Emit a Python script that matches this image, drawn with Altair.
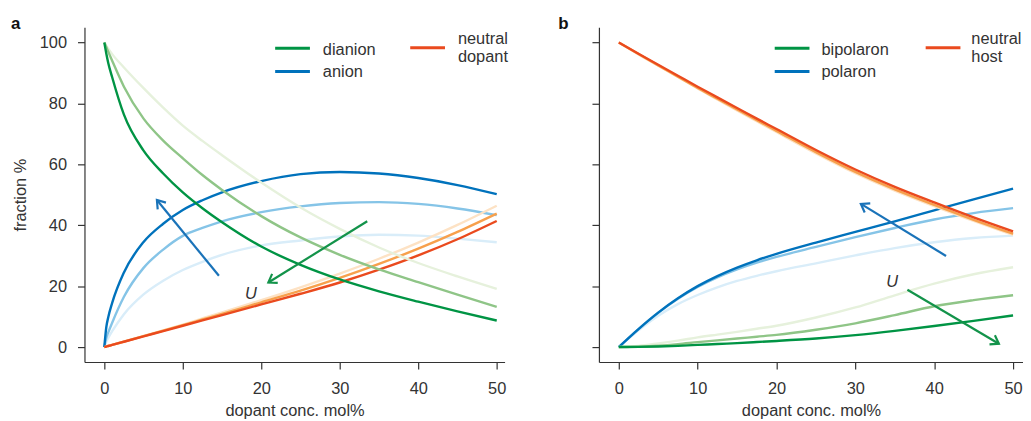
import math
import altair as alt
import pandas as pd

# ---------------- data ----------------
x_a = [0, 0.25, 0.5, 1, 2.5, 5, 7.5, 10, 12.5, 15, 20, 25, 30, 35, 40, 45, 50]
dianion_strong = [100, 96.4, 93.3, 88.6, 76.3, 64.5, 57.0, 50.8, 45.6, 41.0, 33, 27, 22.2, 18.3, 14.9, 11.7, 8.7]
dianion_mid = [100, 98.5, 97, 94, 85.5, 75, 67.8, 62, 56.5, 51.6, 43, 36, 30.3, 25.5, 21.3, 17.2, 13.2]
dianion_weak = [100, 99, 98, 96.2, 91.8, 85, 78.6, 72.7, 67.7, 63, 54, 45.8, 38.8, 32.7, 27.6, 23.2, 19.1]
anion_strong = [0, 6.5, 9.8, 14.5, 24.5, 34.5, 40.5, 45, 48.2, 50.8, 54.5, 56.8, 57.5, 57, 55.5, 53.2, 50.2]
anion_mid = [0, 3.0, 4.8, 8.0, 16.5, 26, 32, 36.5, 39.1, 41.3, 44.3, 46.2, 47.3, 47.6, 47, 45.5, 43.3]
anion_weak = [0, 1.8, 3.0, 5.2, 10.8, 17.3, 21.8, 25.3, 28.0, 30.3, 33.4, 35, 36.3, 36.9, 36.6, 35.6, 34.4]
dopant_strong = [0, 0.17, 0.35, 0.7, 1.75, 3.5, 5.25, 7.0, 8.75, 10.5, 14.0, 17.5, 21.2, 25.4, 30.1, 35.4, 41.4]
dopant_mid = [0, 0.17, 0.35, 0.71, 1.78, 3.58, 5.38, 7.2, 9.05, 10.9, 14.7, 18.5, 22.7, 27.3, 32.3, 37.8, 43.8]
dopant_weak = [0, 0.17, 0.36, 0.72, 1.82, 3.66, 5.5, 7.4, 9.4, 11.4, 15.4, 19.6, 24.1, 29.0, 34.3, 40.1, 46.4]

x_b = [0, 2.5, 5, 7.5, 10, 12.5, 15, 17.5, 20, 25, 30, 35, 40, 45, 50]
host_strong = [100, 96.3, 92.7, 89.1, 85.5, 82.0, 78.5, 75.0, 71.6, 64.7, 58.3, 52.6, 47.5, 42.6, 38.0]
host_mid = [100, 96.2, 92.5, 88.8, 85.1, 81.55, 78.0, 74.5, 71.0, 64.0, 57.5, 51.8, 46.7, 41.8, 37.2]
host_weak = [100, 96.1, 92.4, 88.7, 84.9, 81.3, 77.7, 74.15, 70.6, 63.6, 57.1, 51.4, 46.3, 41.4, 36.8]
polaron_strong = [0, 5.9, 11.3, 16.0, 20.0, 23.3, 26.1, 28.5, 30.6, 34.3, 37.8, 41.3, 44.9, 48.5, 52.0]
polaron_mid = [0, 5.9, 11.25, 15.85, 19.75, 22.9, 25.5, 27.7, 29.6, 32.9, 36.1, 39.1, 41.9, 44.0, 45.6]
polaron_weak = [0, 5.5, 10.3, 14.1, 17.1, 19.6, 21.7, 23.4, 24.9, 27.5, 30.1, 32.5, 34.4, 35.8, 36.6]
bipolaron_strong = [0, 0.05, 0.2, 0.4, 0.7, 1.0, 1.3, 1.65, 2.0, 2.8, 3.9, 5.3, 6.9, 8.6, 10.4]
bipolaron_mid = [0, 0.15, 0.45, 0.95, 1.6, 2.2, 2.8, 3.4, 4.0, 5.7, 7.8, 10.5, 13.4, 15.4, 17.0]
bipolaron_weak = [0, 0.4, 1.2, 2.1, 3.2, 4.1, 5.0, 6.0, 7.0, 9.7, 13.0, 17.0, 20.8, 23.9, 26.2]

# arrows: tail x, tail y, head x, head y
arrows_a = [[14.6, 23.4, 6.7, 48.3], [33.5, 41.3, 20.9, 21.2]]
arrows_b = [[41.5, 29.9, 30.7, 47.0], [36.6, 18.8, 48.2, 1.1]]
u_a = [18.67, 17.4]
u_b = [34.67, 21.5]

x_ticks = [0, 10, 20, 30, 40, 50]
y_ticks = [0, 20, 40, 60, 80, 100]

# ---------------- style ----------------
FONT = "Liberation Sans"
TXT = "#333333"
GREEN = ["#e6f1dc", "#8fc587", "#009444"]
BLUE = ["#d9edf9", "#85c4e7", "#0072bc"]
RED = ["#fde2c4", "#f7a04c", "#ea4a1e"]
ARROW_BLUE = "#1a73b9"
ARROW_GREEN = "#13934a"
FS = 16.5
H = 337
YDOM = [-4.9, 105]
HEAD = "M-0.55,0.8L0,0L0.55,0.8"


def panel(tag, xs, series, xdom, width, arrows, upos, legend, letter, letter_x, first):
    xsc = alt.Scale(domain=xdom, nice=False, zero=False)
    ysc = alt.Scale(domain=YDOM, nice=False, zero=False)
    xax = alt.Axis(values=x_ticks, title="dopant conc. mol%", labelPadding=11.5, titlePadding=6)
    if first:
        yax = alt.Axis(values=y_ticks, title="fraction %", labelPadding=11, titlePadding=10.5)
    else:
        yax = alt.Axis(values=y_ticks, title=None, labels=False)
    rows = []
    keys, cols = [], []
    for i, (vals, col) in enumerate(series):
        k = "%s%02d" % (tag, i)
        keys.append(k)
        cols.append(col)
        for xv, yv in zip(xs, vals):
            rows.append({"x": xv, "y": yv, "k": k})
    df = pd.DataFrame(rows)
    lines = alt.Chart(df).mark_line(strokeWidth=2.4, interpolate="monotone").encode(
        x=alt.X("x:Q", scale=xsc, axis=xax),
        y=alt.Y("y:Q", scale=ysc, axis=yax),
        color=alt.Color("k:N", scale=alt.Scale(domain=keys, range=cols), legend=None),
    )
    sx = width / (xdom[1] - xdom[0])
    sy = H / (YDOM[1] - YDOM[0])
    arows = []
    for (tx, ty, hx, hy), c in zip(arrows, [ARROW_BLUE, ARROW_GREEN]):
        dx = (hx - tx) * sx
        dy = -(hy - ty) * sy
        ang = math.degrees(math.atan2(dx, -dy)) % 360
        arows.append({"x": tx, "y": ty, "hx": hx, "hy": hy, "c": c, "ang": ang})
    adf = pd.DataFrame(arows)
    shafts = alt.Chart(adf).mark_rule(strokeWidth=2.2).encode(
        x=alt.X("x:Q", scale=xsc, axis=xax),
        y=alt.Y("y:Q", scale=ysc, axis=yax),
        x2="hx:Q",
        y2="hy:Q",
        stroke=alt.Stroke("c:N", scale=None),
    )
    hdf = pd.DataFrame({"x": [a["hx"] for a in arows], "y": [a["hy"] for a in arows],
                        "c": [a["c"] for a in arows], "ang": [a["ang"] for a in arows]})
    heads = alt.Chart(hdf).mark_point(shape=HEAD, filled=False, size=380, strokeWidth=2.2, opacity=1).encode(
        x=alt.X("x:Q", scale=xsc, axis=xax),
        y=alt.Y("y:Q", scale=ysc, axis=yax),
        angle=alt.Angle("ang:Q", scale=None),
        stroke=alt.Stroke("c:N", scale=None),
    )
    udf = pd.DataFrame({"x": [upos[0]], "y": [upos[1]], "t": ["U"]})
    utext = alt.Chart(udf).mark_text(font=FONT, fontSize=FS, fontStyle="italic", color=TXT,
                                     baseline="middle", align="center").encode(
        x=alt.X("x:Q", scale=xsc, axis=xax),
        y=alt.Y("y:Q", scale=ysc, axis=yax),
        text="t:N",
    )
    layers = [lines, shafts, heads, utext]
    # legend (decoration in pixel space)
    dummy = pd.DataFrame({"t": ["."]})
    for (x1, x2, yy, col) in legend["symbols"]:
        layers.append(alt.Chart(dummy).mark_rule(strokeWidth=3, color=col).encode(
            x=alt.value(x1), x2=alt.value(x2), y=alt.value(yy)))
    for (tx, ty, label) in legend["labels"]:
        layers.append(alt.Chart(pd.DataFrame({"t": [label]})).mark_text(
            font=FONT, fontSize=FS, color=TXT, align="left", baseline="middle").encode(
            x=alt.value(tx), y=alt.value(ty), text="t:N"))
    layers.append(alt.Chart(pd.DataFrame({"t": [letter]})).mark_text(
        font=FONT, fontSize=17, fontWeight="bold", color="#111111", align="left", baseline="middle").encode(
        x=alt.value(letter_x), y=alt.value(-2.8), text="t:N"))
    return alt.layer(*layers).properties(width=width, height=H)


series_a = [
    (anion_weak, BLUE[0]), (anion_mid, BLUE[1]), (anion_strong, BLUE[2]),
    (dopant_weak, RED[0]), (dopant_mid, RED[1]), (dopant_strong, RED[2]),
    (dianion_weak, GREEN[0]), (dianion_mid, GREEN[1]), (dianion_strong, GREEN[2]),
]
series_b = [
    (polaron_weak, BLUE[0]), (polaron_mid, BLUE[1]), (polaron_strong, BLUE[2]),
    (bipolaron_weak, GREEN[0]), (bipolaron_mid, GREEN[1]), (bipolaron_strong, GREEN[2]),
    (host_weak, RED[0]), (host_mid, RED[1]), (host_strong, RED[2]),
]

legend_a = {
    "symbols": [(192, 227, 21, GREEN[2]), (192, 227, 44.5, BLUE[2]), (328, 363, 20.5, RED[2])],
    "labels": [(240, 22.5, "dianion"), (240, 45.5, "anion"), (376, 12, "neutral"), (376, 29.5, "dopant")],
}
legend_b = {
    "symbols": [(177, 212, 21, GREEN[2]), (177, 212, 44.5, BLUE[2]), (329, 364, 20.5, RED[2])],
    "labels": [(224, 22.5, "bipolaron"), (224, 45.5, "polaron"), (375, 12, "neutral"), (375, 29.5, "host")],
}

pa = panel("a", x_a, series_a, [-2.53, 51.0], 423, arrows_a, u_a, legend_a, "a", -74, True)
pb = panel("b", x_b, series_b, [-2.52, 51.26], 427, arrows_b, u_b, legend_b, "b", -41, False)

chart = alt.hconcat(pa, pb, spacing=95, bounds="flush").resolve_scale(
    color="independent"
).properties(
    padding={"left": 3, "top": 6, "right": 0, "bottom": 0}
).configure_view(stroke=None).configure_axis(
    grid=False,
    domainColor=TXT,
    domainWidth=1.2,
    tickColor=TXT,
    tickWidth=1.2,
    tickSize=7,
    labelFont=FONT,
    labelFontSize=FS,
    labelColor=TXT,
    titleFont=FONT,
    titleFontSize=FS,
    titleFontWeight="normal",
    titleColor=TXT,
).configure_text(font=FONT)

chart.save("out.html", embed_options={"renderer": "svg", "actions": False})
